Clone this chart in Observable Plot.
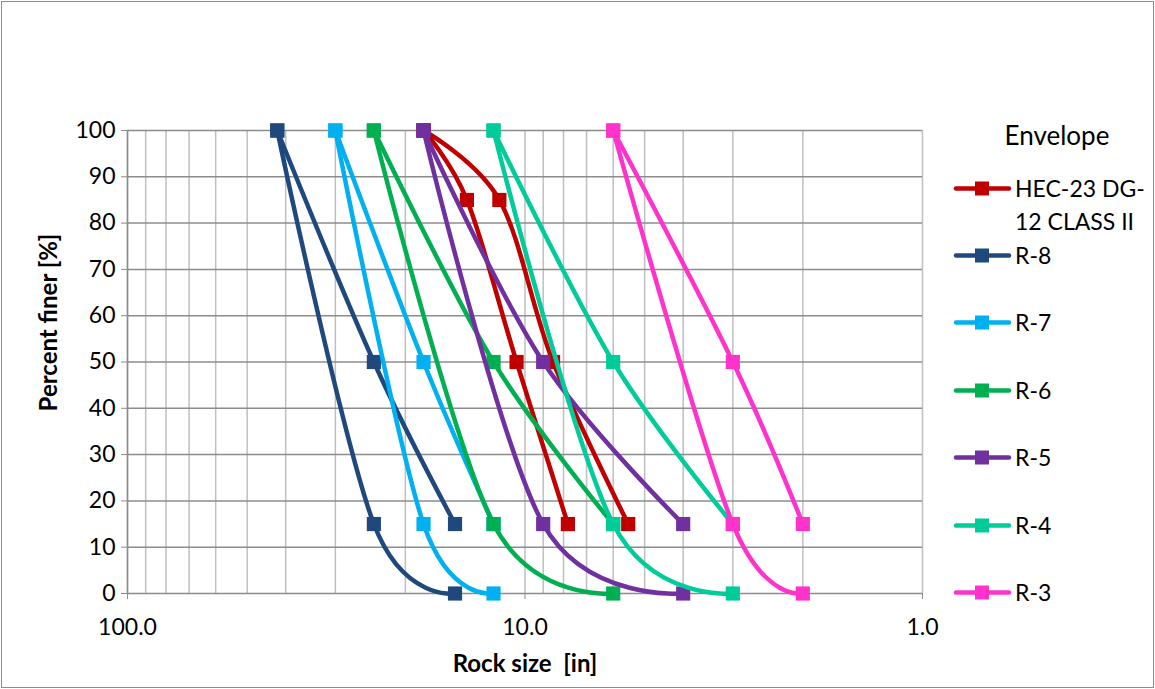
<!DOCTYPE html>
<html><head><meta charset="utf-8">
<script src="https://cdn.jsdelivr.net/npm/d3@7"></script>
<script src="https://cdn.jsdelivr.net/npm/@observablehq/plot@0.6"></script>
<style>
body{margin:0;background:#fff;}
#wrap{position:relative;width:1155px;height:689px;font-family:Lato,"Open Sans",sans-serif;color:#000;overflow:hidden}
#frame{position:absolute;left:1px;top:1px;width:1153px;height:687px;border:1.5px solid #8c8c8c;box-sizing:border-box;pointer-events:none}
svg text{white-space:pre}
.lg{position:absolute;display:flex;align-items:flex-start}
.lgt{font-size:23px;line-height:33px;white-space:nowrap;margin-left:3px}
</style></head><body><div id="wrap"><div id="frame"></div></div>
<script>
// ---- data ----
const classes = ["HEC-23 DG-12 CLASS II","R-8","R-7","R-6","R-5","R-4","R-3"];
const colors  = ["#C00000","#1F497D","#00B0F0","#00B050","#7030A0","#00CC99","#FF33CC"];
// HEC-23 DG-12 Class II limits (percent finer vs size, in)
const hecPct    = [100, 85, 50, 15];
const hecCoarse = [18, 14, 10.5, 7.8];
const hecFine   = [18, 11.6, 8.5, 5.5];
// R classes: same three sizes used by both limit curves
const rUpperPct = [100, 50, 15];
const rLowerPct = [100, 15, 0];
const r8 = [42, 24, 15];
const r7 = [30, 18, 12];
const r6 = [24, 12, 6];
const r5 = [18, 9, 4];
const r4 = [12, 6, 3];
const r3 = [6, 3, 2];
// axes
const xLabelTicks = [100, 10, 1];
const xGrid = [100,90,80,70,60,50,40,30,20,10,9,8,7,6,5,4,3,2,1];
const yTicks = [0,10,20,30,40,50,60,70,80,90,100];

// ---- build tidy rows ----
function curveRows(cls, limit, pcts, sizes){
  return pcts.map((p,i)=>({cls, limit, pct:p, size:sizes[i]}));
}
const rSets = {"R-8":r8,"R-7":r7,"R-6":r6,"R-5":r5,"R-4":r4,"R-3":r3};
const byClass = {};
byClass[classes[0]] = [curveRows(classes[0],"coarse",hecPct,hecCoarse), curveRows(classes[0],"fine",hecPct,hecFine)];
for (const c of classes.slice(1)) {
  byClass[c] = [curveRows(c,"upper",rUpperPct,rSets[c]), curveRows(c,"lower",rLowerPct,rSets[c])];
}

const seriesMarks = [];
classes.forEach((c,i)=>{
  const rows = byClass[c].flat();
  seriesMarks.push(Plot.line(rows, {x:"size", y:"pct", z:"limit", stroke:colors[i], strokeWidth:4.5, curve:"cardinal", tension:0, strokeLinejoin:"round", strokeLinecap:"round"}));
  seriesMarks.push(Plot.dot(rows, {x:"size", y:"pct", fill:colors[i], symbol:"square", r:8, stroke:null}));
});

const W=1155, H=689;
const FS = 23;
const chart = Plot.plot({
  width: W, height: H,
  marginLeft: 127, marginRight: 233, marginTop: 130, marginBottom: 96,
  style:{fontFamily:"Lato, 'Open Sans', sans-serif", fontSize:FS+"px", color:"#000", background:"transparent"},
  x:{type:"log", domain:[100,1]},
  y:{domain:[0,100]},
  marks:[
    Plot.ruleX(xGrid, {stroke:"#BFBFBF", strokeWidth:1.5}),
    Plot.ruleY(yTicks, {stroke:"#8C8C8C", strokeWidth:1.5}),
    Plot.ruleX([100], {stroke:"#8C8C8C", strokeWidth:1.5}),
    Plot.axisX({ticks:xLabelTicks, tickFormat:d=>d.toFixed(1), tickSize:6, tickPadding:19, stroke:"#8C8C8C", fontSize:FS, label:null}),
    Plot.axisY({ticks:yTicks, tickSize:6, tickPadding:6, stroke:"#8C8C8C", fontSize:FS, label:null}),
    ...seriesMarks,
    Plot.text(["Rock size  [in]"], {frameAnchor:"bottom", dy:78, fontWeight:"bold", fontSize:24, fill:"#000"}),
    Plot.text(["Percent finer [%]"], {frameAnchor:"top-left", textAnchor:"middle", dx:-88, dy:192, rotate:-90, fontWeight:"bold", fontSize:24, fill:"#000"})
  ]
});
const wrap = document.getElementById("wrap");
chart.style.position="absolute"; chart.style.left="0"; chart.style.top="0";
wrap.insertBefore(chart, wrap.firstChild);

// ---- legend ----
const title = document.createElement("div");
title.textContent = "Envelope";
title.style.cssText = "position:absolute;left:990px;top:118px;width:134px;text-align:center;font-size:26px;line-height:34px";
wrap.appendChild(title);
const legendY = [188,255,322,390,457,525,592];
classes.forEach((c,i)=>{
  const d = document.createElement("div");
  d.className="lg";
  d.style.left="953px"; d.style.top=(legendY[i]-16.5)+"px";
  const ns="http://www.w3.org/2000/svg";
  const s=document.createElementNS(ns,"svg"); s.setAttribute("width","59"); s.setAttribute("height","33");
  const l=document.createElementNS(ns,"line");
  l.setAttribute("x1","3");l.setAttribute("x2","56");l.setAttribute("y1","16.5");l.setAttribute("y2","16.5");
  l.setAttribute("stroke",colors[i]);l.setAttribute("stroke-width","4.5");l.setAttribute("stroke-linecap","round");
  const r=document.createElementNS(ns,"rect");
  r.setAttribute("x","22");r.setAttribute("y","9.5");r.setAttribute("width","14");r.setAttribute("height","14");r.setAttribute("fill",colors[i]);
  s.appendChild(l); s.appendChild(r);
  const t=document.createElement("div"); t.className="lgt";
  if (i===0){ t.innerHTML = "HEC-23 DG-<br>12 CLASS II"; } else { t.textContent = c; }
  d.appendChild(s); d.appendChild(t);
  wrap.appendChild(d);
});
</script></body></html>
